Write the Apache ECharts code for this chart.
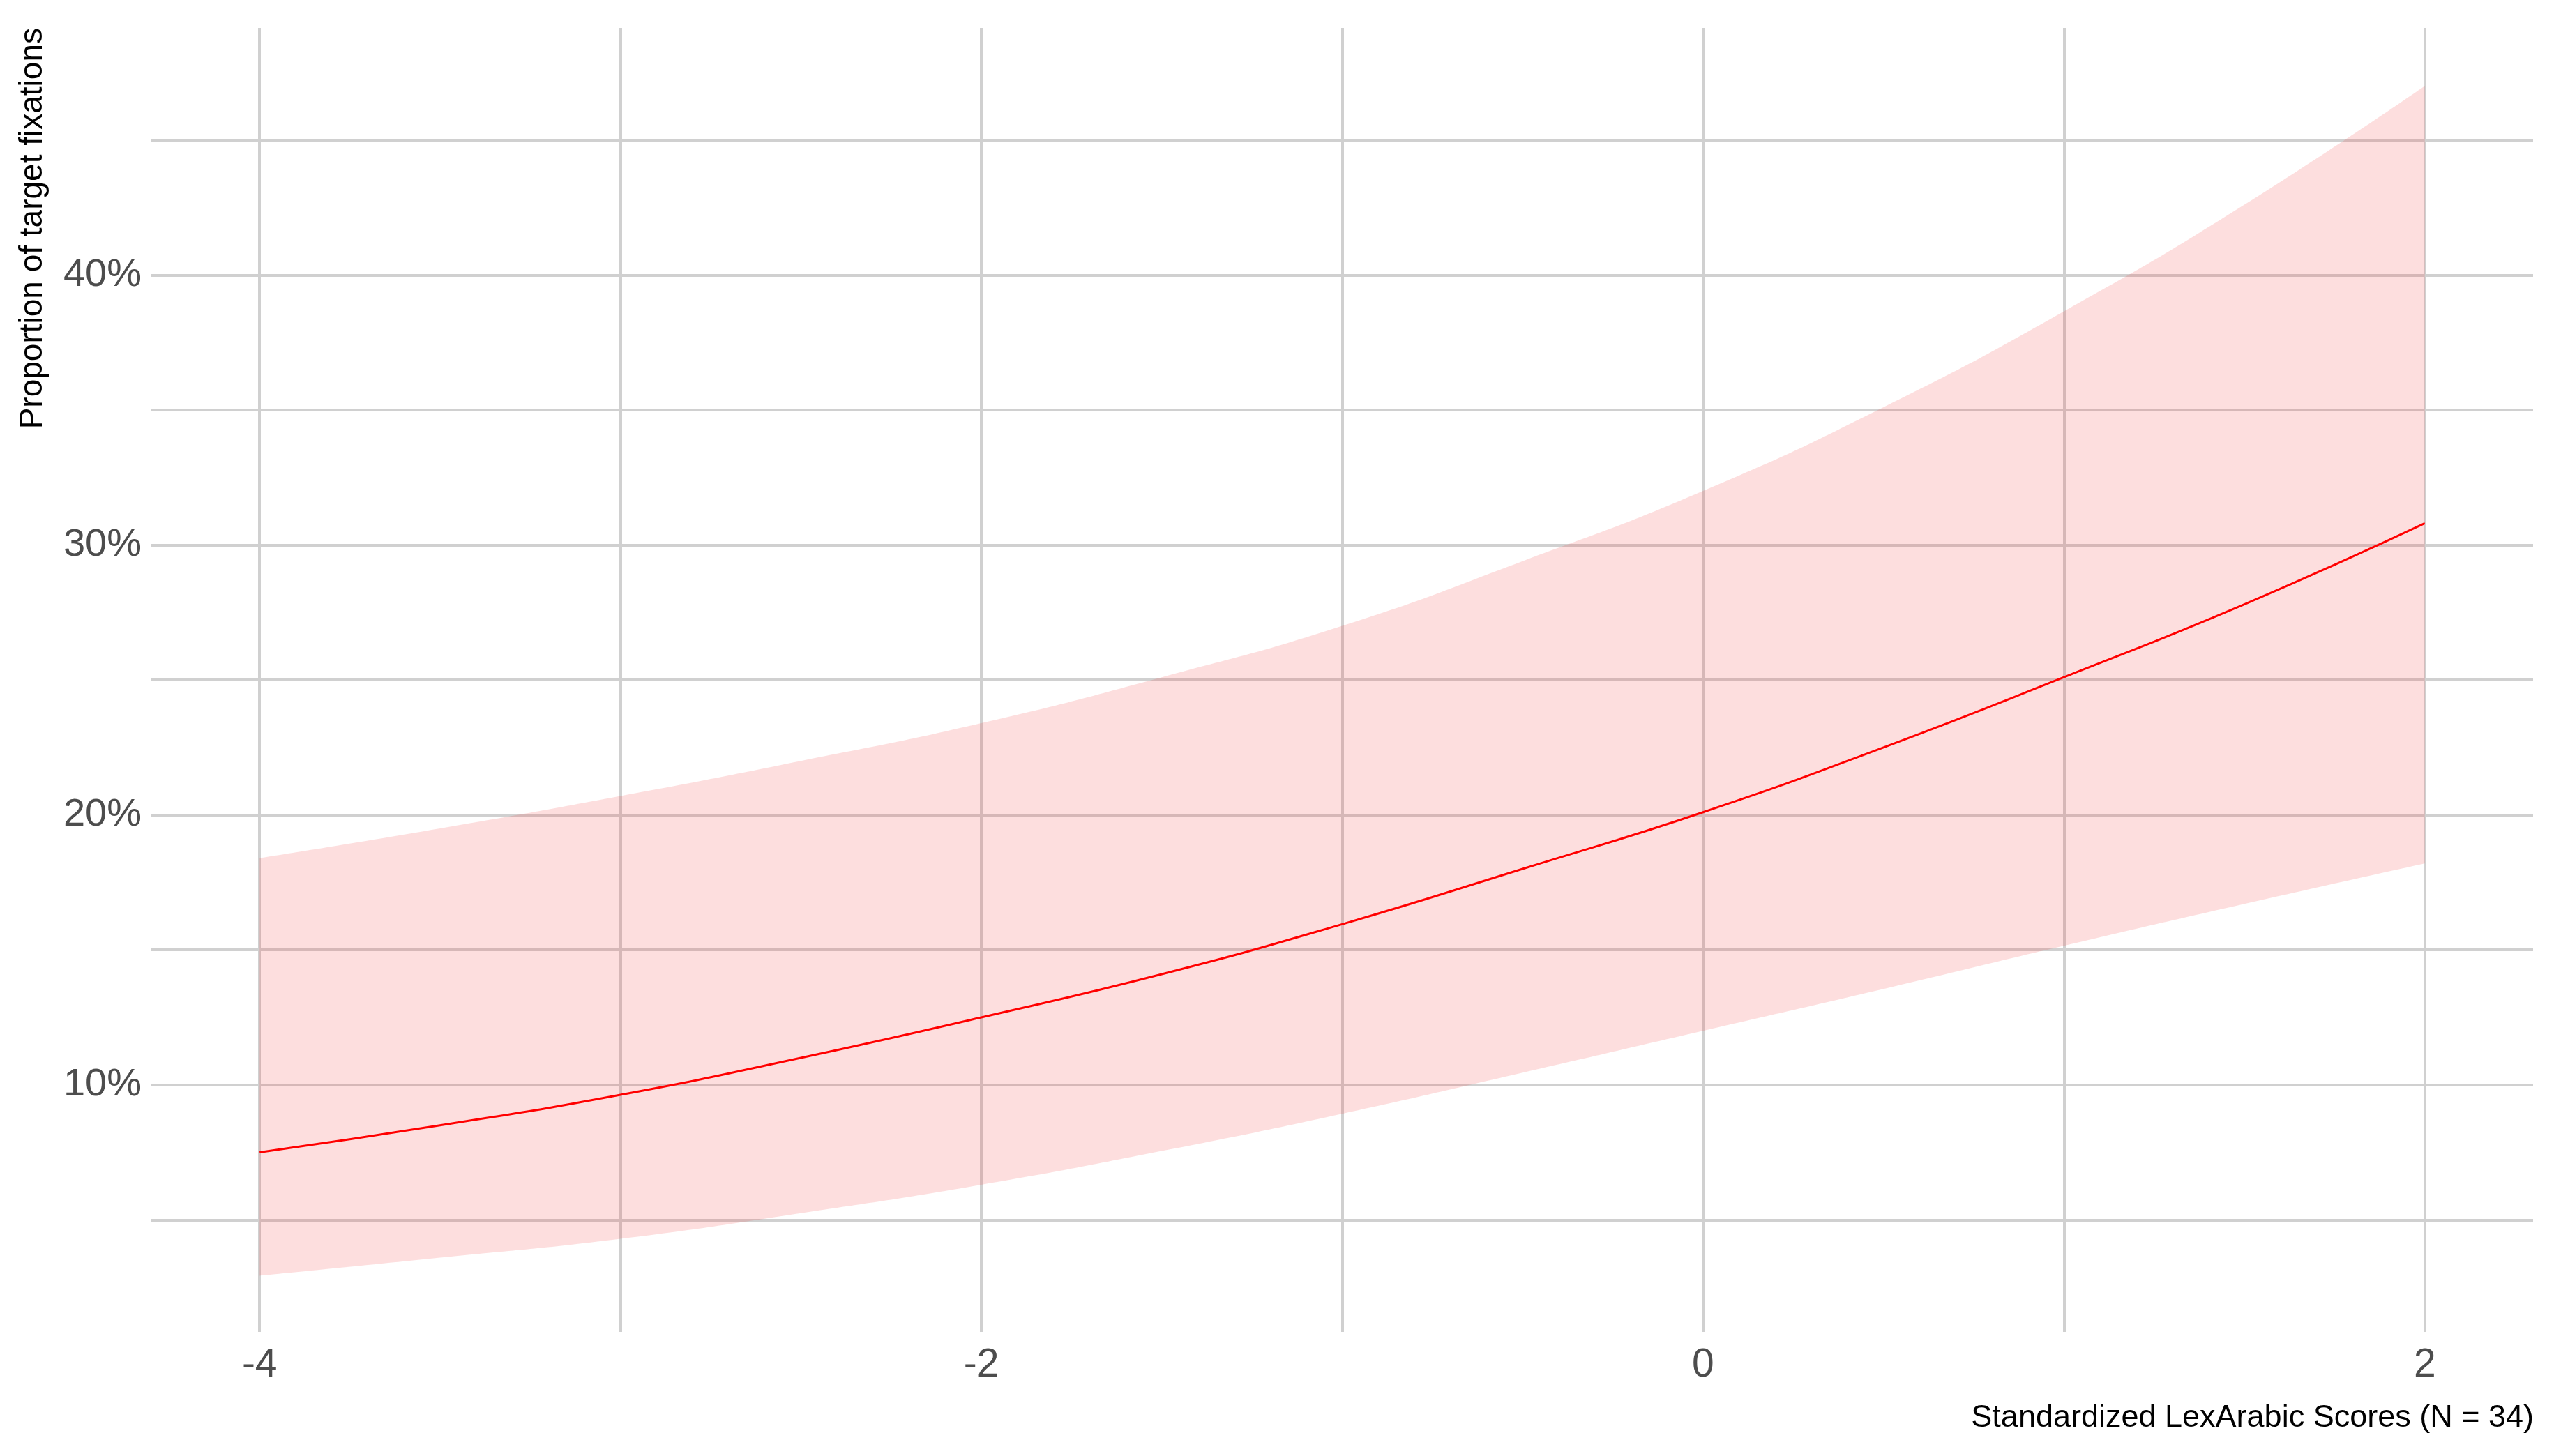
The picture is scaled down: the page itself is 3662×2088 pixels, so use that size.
<!DOCTYPE html>
<html>
<head>
<meta charset="utf-8">
<script src="https://cdn.jsdelivr.net/npm/echarts@6/dist/echarts.min.js"></script>
<style>
  html, body { margin: 0; padding: 0; background: #fff; }
  #chart { width: 3662px; height: 2088px; }
</style>
</head>
<body>
<div id="chart"></div>
<script>
// standardized LexArabic score (x) and predicted proportion of target fixations (%)
const scores = [-4, -3.5, -3, -2.5, -2, -1.5, -1, -0.5, 0, 0.5, 1, 1.5, 2]
const fitted = [7.5, 8.5, 9.63, 11.0, 12.5, 14.1, 15.95, 18.0, 20.1, 22.5, 25.1, 27.8, 30.8]
const lowerCI = [2.93, 3.6, 4.3, 5.25, 6.3, 7.55, 8.93, 10.45, 12.0, 13.55, 15.15, 16.7, 18.2]
const upperCI = [18.4, 19.5, 20.7, 22.0, 23.4, 25.1, 27.0, 29.4, 32.0, 35.1, 38.65, 42.6, 47.0]

const xGrid = [-4, -3, -2, -1, 0, 1, 2]
const xLabels = [-4, -2, 0, 2]
const yGrid = [5, 10, 15, 20, 25, 30, 35, 40, 45]
const yLabels = [10, 20, 30, 40]

const gridColor = '#d0d0d0'
const labelFont = 'Liberation Sans, Arial, sans-serif'

const chart = echarts.init(document.getElementById('chart'))

// ribbon is a stacked area; y goes first in each pair so the stack
// happens on the y dimension (both axes are value axes)
const lowerPairs = scores.map((x, i) => [lowerCI[i], x])
const widthPairs = scores.map((x, i) => [+(upperCI[i] - lowerCI[i]).toFixed(2), x])

chart.setOption({
  animation: false,
  backgroundColor: '#fff',
  grid: {
    left: 217,
    right: 30,
    top: 40,
    bottom: 178
  },
  xAxis: {
    type: 'value',
    min: -4.3,
    max: 2.3,
    axisLine: { show: false },
    axisTick: { show: false, customValues: xGrid },
    axisLabel: {
      customValues: xLabels,
      color: '#4d4d4d',
      fontSize: 57,
      fontFamily: labelFont,
      margin: 20
    },
    splitLine: { show: true, lineStyle: { color: gridColor, width: 4 } }
  },
  yAxis: {
    type: 'value',
    min: 0.85,
    max: 49.15,
    axisLine: { show: false },
    axisTick: { show: false, customValues: yGrid },
    axisLabel: {
      customValues: yLabels,
      formatter: '{value}%',
      color: '#4d4d4d',
      fontSize: 56,
      fontFamily: labelFont,
      margin: 14
    },
    splitLine: { show: true, lineStyle: { color: gridColor, width: 4 } }
  },
  graphic: [
    {
      type: 'text',
      x: 47,
      y: 40,
      rotation: Math.PI / 2,
      style: {
        text: 'Proportion of target fixations',
        fill: '#000',
        font: '46px Liberation Sans, Arial, sans-serif',
        textAlign: 'right',
        textVerticalAlign: 'middle'
      }
    },
    {
      type: 'text',
      x: 3633,
      y: 2034,
      style: {
        text: 'Standardized LexArabic Scores (N = 34)',
        fill: '#000',
        font: '45px Liberation Sans, Arial, sans-serif',
        textAlign: 'right',
        textVerticalAlign: 'middle'
      }
    }
  ],
  series: [
    {
      name: 'lower',
      type: 'line',
      stack: 'ci',
      smooth: true,
      showSymbol: false,
      silent: true,
      encode: { x: 1, y: 0 },
      lineStyle: { opacity: 0 },
      data: lowerPairs
    },
    {
      name: 'band',
      type: 'line',
      stack: 'ci',
      smooth: true,
      showSymbol: false,
      silent: true,
      encode: { x: 1, y: 0 },
      lineStyle: { opacity: 0 },
      areaStyle: { color: 'rgba(245, 60, 60, 0.17)', opacity: 1 },
      data: widthPairs
    },
    {
      name: 'fit',
      type: 'line',
      smooth: true,
      showSymbol: false,
      z: 5,
      lineStyle: { color: '#ff0000', width: 3 },
      data: scores.map((x, i) => [x, fitted[i]])
    }
  ]
})
</script>
</body>
</html>
